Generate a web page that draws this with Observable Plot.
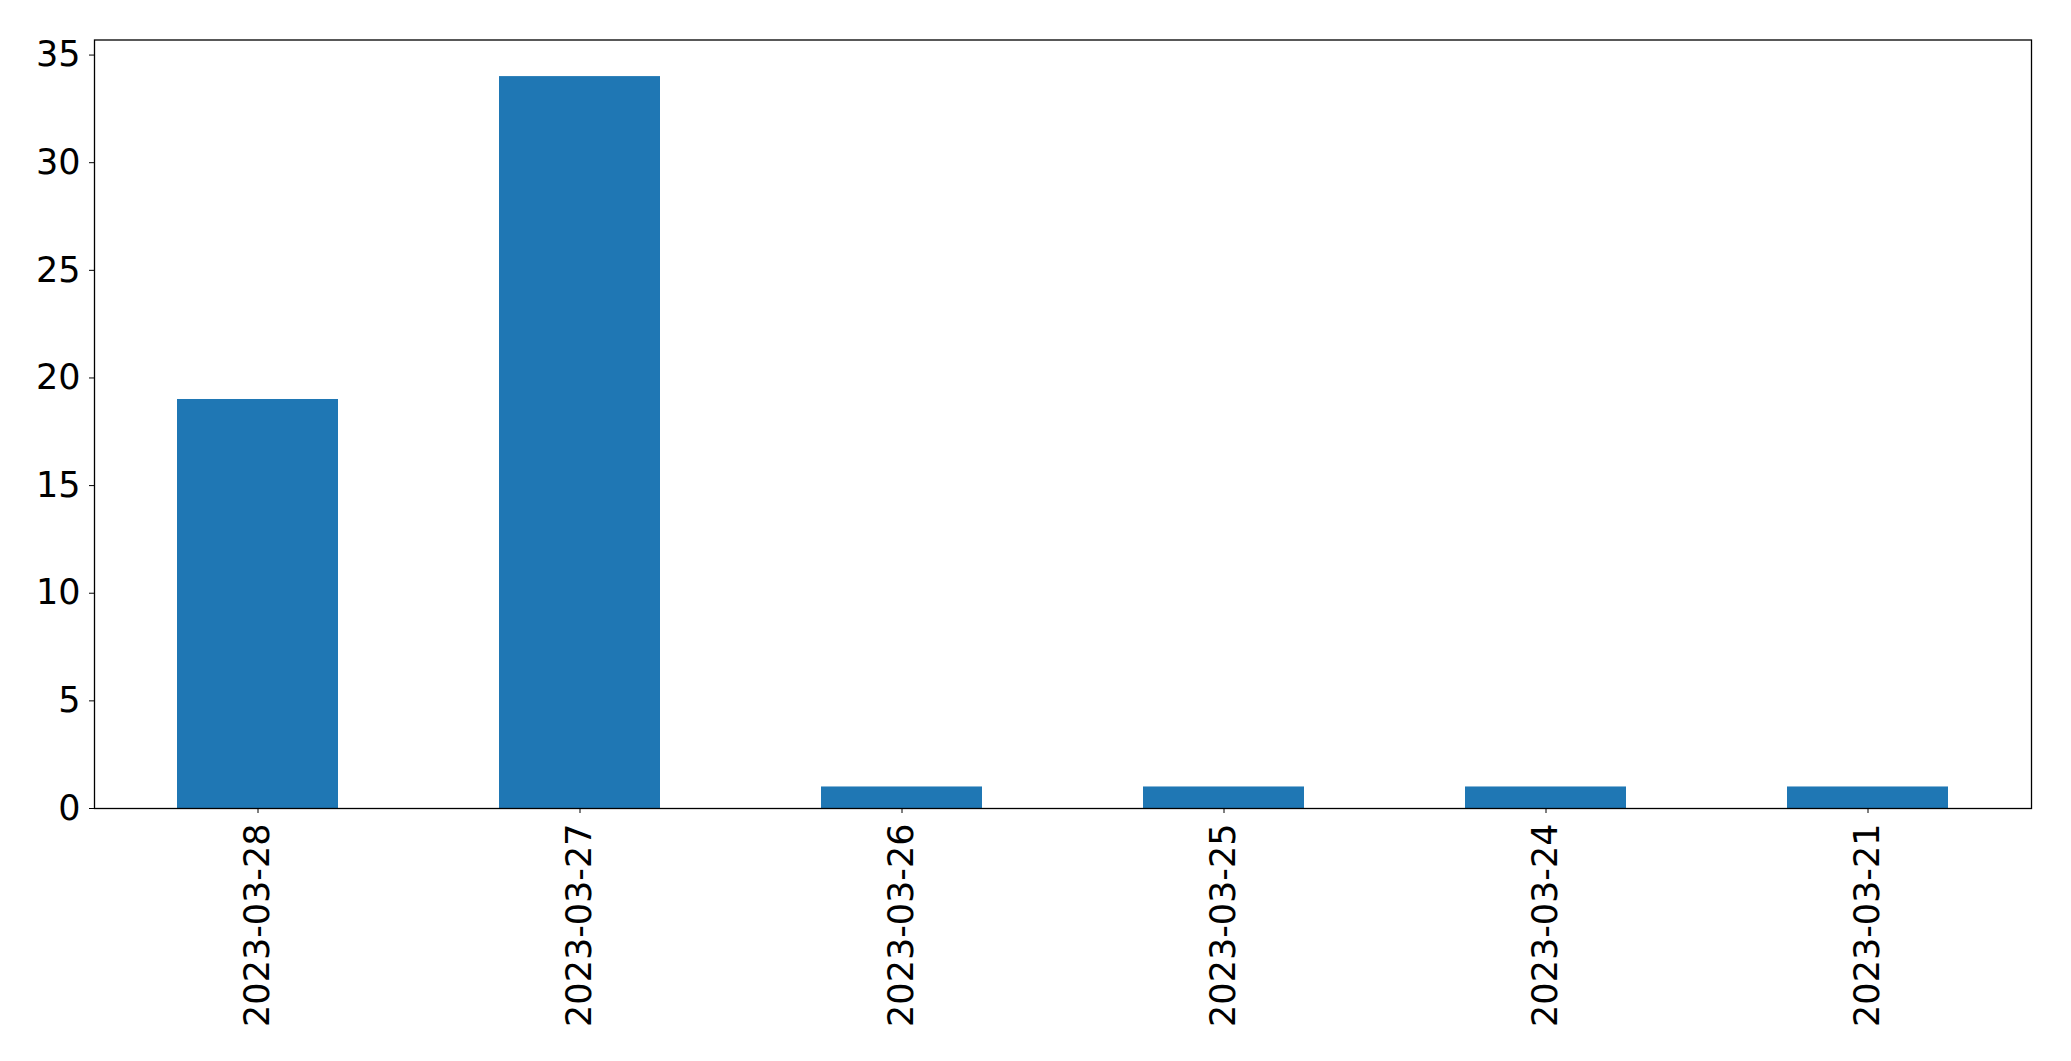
<!DOCTYPE html>
<html>
<head>
<meta charset="utf-8">
<script src="https://cdn.jsdelivr.net/npm/d3@7"></script>
<script src="https://cdn.jsdelivr.net/npm/@observablehq/plot@0.6"></script>
<style>
  html, body { margin: 0; padding: 0; background: #fff; }
  #chart svg { display: block; }
</style>
</head>
<body>
<div id="chart"></div>
<script>
const dates = ["2023-03-28", "2023-03-27", "2023-03-26", "2023-03-25", "2023-03-24", "2023-03-21"];
const counts = [19, 34, 1, 1, 1, 1];
const yTicks = [0, 5, 10, 15, 20, 25, 30, 35];

const data = dates.map((d, i) => ({date: d, count: counts[i]}));

const chart = Plot.plot({
  width: 2071,
  height: 1061,
  marginLeft: 94,
  marginRight: 40,
  marginTop: 39.5,
  marginBottom: 253,
  style: {fontFamily: "DejaVu Sans", fontSize: "35px", color: "#000", background: "#fff"},
  x: {domain: dates, paddingInner: 0.5, paddingOuter: 0.25, label: null},
  y: {domain: [0, 35.7], label: null},
  marks: [
    Plot.barY(data, {x: "date", y: "count", fill: "#1f77b4"}),
    Plot.axisY({ticks: yTicks, tickSize: 5, tickPadding: 9, fontSize: 35, label: null}),
    Plot.axisX({tickSize: 5, tickPadding: 10, tickRotate: -90, fontSize: 35, label: null}),
    Plot.frame({stroke: "#000", strokeWidth: 1.3})
  ]
});
document.getElementById("chart").appendChild(chart);
</script>
</body>
</html>
